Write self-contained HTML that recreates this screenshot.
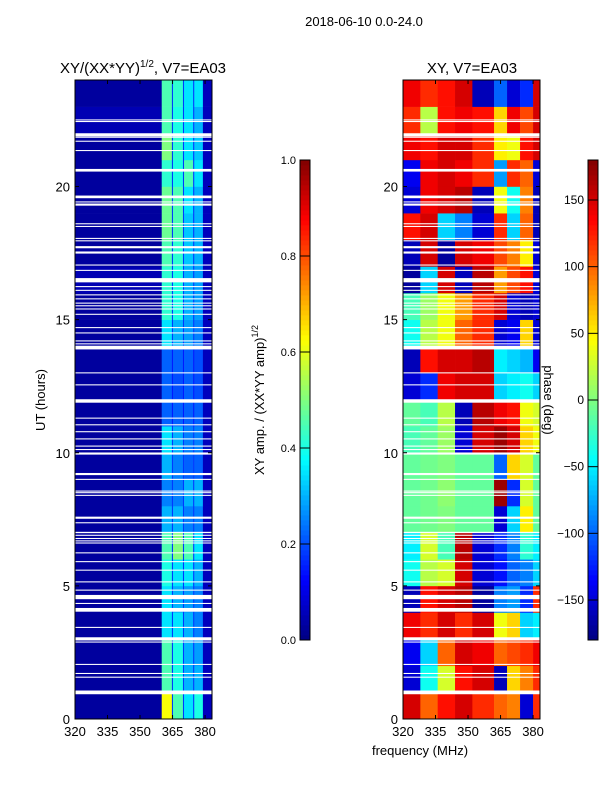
<!DOCTYPE html>
<html><head><meta charset="utf-8">
<style>
html,body{margin:0;padding:0;background:#fff;}
svg{display:block;font-family:"Liberation Sans","DejaVu Sans",sans-serif;}
</style></head>
<body>
<svg id="fig" width="600" height="800" viewBox="0 0 600 800">
<rect width="600" height="800" fill="#fff"/>
<text x="364" y="26" font-size="13" text-anchor="middle">2018-06-10 0.0-24.0</text>
<text x="143" y="73" font-size="15" text-anchor="middle">XY/(XX*YY)<tspan font-size="10" dy="-6">1/2</tspan><tspan dy="6">, V7=EA03</tspan></text>
<text x="472" y="73" font-size="15" text-anchor="middle">XY, V7=EA03</text>
<text transform="translate(45,400) rotate(-90)" font-size="13" text-anchor="middle">UT (hours)</text>
<text transform="translate(264,400) rotate(-90)" font-size="13" text-anchor="middle">XY amp. / (XX*YY amp)<tspan font-size="9" dy="-6">1/2</tspan></text>
<text transform="translate(544,400) rotate(90)" font-size="13" text-anchor="middle">phase (deg)</text>
<text x="420" y="755" font-size="13" text-anchor="middle">frequency (MHz)</text>
<g id="left"></g><g id="right"></g><g id="cb1"></g><g id="cb2"></g>
</svg>
<script>
// ---- data ----
const hours = [0,1,2,3,4,5,6,7,8,9,10,11,12,13,14,15,16,17,18,19,20,21,22,23];
const ampFreqEdges = [320,360,364.7,365.2,369.8,370.3,374.5,375,379,383.2];
const ampValues = [
 [0.03,0.62,0.18,0.45,0.18,0.35,0.18,0.40,0.06],
 [0.03,0.45,0.18,0.40,0.18,0.30,0.18,0.30,0.06],
 [0.03,0.45,0.18,0.40,0.18,0.30,0.18,0.28,0.06],
 [0.03,0.35,0.18,0.35,0.18,0.30,0.18,0.25,0.06],
 [0.03,0.35,0.18,0.30,0.18,0.28,0.18,0.25,0.06],
 [0.03,0.40,0.18,0.35,0.18,0.35,0.18,0.30,0.06],
 [0.03,0.45,0.18,0.50,0.18,0.45,0.18,0.35,0.06],
 [0.03,0.30,0.18,0.30,0.18,0.25,0.18,0.25,0.06],
 [0.03,0.25,0.18,0.25,0.18,0.30,0.18,0.30,0.06],
 [0.03,0.30,0.18,0.25,0.18,0.22,0.18,0.22,0.06],
 [0.03,0.35,0.18,0.30,0.18,0.25,0.18,0.25,0.06],
 [0.03,0.22,0.15,0.22,0.15,0.22,0.15,0.22,0.06],
 [0.03,0.22,0.15,0.20,0.15,0.22,0.15,0.20,0.06],
 [0.03,0.22,0.15,0.22,0.15,0.22,0.15,0.20,0.06],
 [0.03,0.35,0.18,0.30,0.18,0.28,0.18,0.25,0.06],
 [0.03,0.42,0.18,0.40,0.18,0.30,0.18,0.28,0.06],
 [0.05,0.42,0.18,0.40,0.18,0.30,0.18,0.28,0.06],
 [0.03,0.45,0.18,0.42,0.18,0.32,0.18,0.30,0.06],
 [0.03,0.48,0.18,0.45,0.18,0.32,0.18,0.30,0.06],
 [0.03,0.48,0.18,0.45,0.18,0.35,0.18,0.30,0.06],
 [0.03,0.42,0.18,0.40,0.18,0.45,0.18,0.35,0.06],
 [0.03,0.50,0.18,0.42,0.18,0.35,0.18,0.32,0.06],
 [0.05,0.45,0.18,0.40,0.18,0.35,0.18,0.30,0.06],
 [0.03,0.45,0.18,0.42,0.18,0.35,0.18,0.35,0.06]
];
const phaseFreqEdges = [320,328,336,344,352,362,368,374,380,383.2];
const phaseValues = [
 [150,100,130,150,120,100,90,-150,120],
 [-150,-40,30,130,150,-160,60,90,120],
 [-140,-60,100,150,140,100,110,120,140],
 [140,120,150,120,150,40,60,-60,-50],
 [-160,130,150,160,-170,-90,-80,-120,120],
 [-40,20,30,150,-150,-130,-100,-90,-60],
 [-50,30,-20,160,-150,-120,-90,-30,-50],
 [-10,-5,0,-10,-10,-150,-60,50,-10],
 [-10,-5,5,-10,-10,170,-120,30,-10],
 [-10,-5,0,-10,-10,-100,60,30,-10],
 [-20,-10,10,-150,150,170,150,60,40],
 [-10,-20,20,-160,160,140,130,40,30],
 [-150,-120,140,150,150,-60,-50,-40,-60],
 [-160,130,150,150,160,-50,-60,-70,-140],
 [-40,20,40,100,120,-150,-140,60,-150],
 [-20,10,40,80,120,150,-150,-160,-150],
 [-170,-60,150,-160,160,80,110,130,-150],
 [-160,150,-170,150,140,110,90,50,-150],
 [130,150,-60,-90,-150,120,-60,100,-160],
 [-150,140,150,160,-160,40,-40,90,-160],
 [-140,140,150,140,120,-80,120,100,-150],
 [140,130,150,150,120,50,40,130,150],
 [120,20,130,140,130,60,140,110,150],
 [140,120,130,150,-160,-100,-150,-120,150]
];
const gapStart = [0.93,1.55,1.69,2.03,2.87,2.95,3.42,4.03,4.32,4.5,4.82,5.13,5.57,5.89,6.22,6.59,6.67,6.76,6.88,6.98,7.35,7.52,8.38,8.48,8.54,8.98,9.16,9.93,10.1,10.23,10.5,10.77,11.03,11.28,11.88,12.53,12.98,13.88,14.07,14.18,14.48,14.68,15.18,15.38,15.5,15.6,15.76,15.91,16.08,16.22,16.4,16.83,17.03,17.48,17.68,17.94,18.03,18.48,18.58,19.28,19.4,19.56,20.56,21.33,21.68,21.83,21.88,22.42,22.48];
const gapEnd   = [1.07,1.59,1.73,2.07,2.91,3.07,3.46,4.17,4.36,4.66,4.86,5.17,5.61,5.93,6.26,6.63,6.71,6.8,6.92,7.03,7.39,7.6,8.42,8.52,8.58,9.02,9.24,10.01,10.14,10.27,10.54,10.81,11.07,11.32,12.01,12.57,13.02,14.02,14.11,14.22,14.52,14.72,15.22,15.42,15.54,15.64,15.8,15.95,16.12,16.26,16.56,16.87,17.07,17.56,17.76,17.98,18.07,18.52,18.62,19.36,19.44,19.66,20.66,21.37,21.72,21.87,22.0,22.46,22.52];
const yTicks = [0,5,10,15,20];
const xTicks = [320,335,350,365,380];
const ampTicks = [0.0,0.2,0.4,0.6,0.8,1.0];
const phaseTicks = [-150,-100,-50,0,50,100,150];

// ---- helpers ----
const NS = "http://www.w3.org/2000/svg";
function jet(v){
  v=Math.max(0,Math.min(1,v));
  const f=t=>Math.max(0,Math.min(1,1.5-Math.abs(4*v-t)));
  return `rgb(${Math.round(f(3)*255)},${Math.round(f(2)*255)},${Math.round(f(1)*255)})`;
}
function mk(parent,tag,attrs){const e=document.createElementNS(NS,tag);for(const k in attrs)e.setAttribute(k,attrs[k]);parent.appendChild(e);return e;}
const Y0=719, Y1=80;
const yScale = h => Y0 + (Y1-Y0)*h/24;

function panel(gid,x0,x1,fEdges,vals,norm,name){
  const g=document.getElementById(gid);
  const xs = f => x0 + (x1-x0)*(f-320)/(383.2-320);
  vals.forEach((row,i)=>{
    row.forEach((v,j)=>{
      const r=mk(g,'rect',{x:xs(fEdges[j]),y:yScale(hours[i]+1),width:xs(fEdges[j+1])-xs(fEdges[j])+0.3,height:yScale(hours[i])-yScale(hours[i]+1)+0.3,fill:jet(norm(v))});
      
      
    });
  });
  gapStart.forEach((s,k)=>{
    const r=mk(g,'rect',{x:x0,y:yScale(gapEnd[k]),width:x1-x0,height:yScale(s)-yScale(gapEnd[k]),fill:'#fff'});
    
    
  });
  const fr=mk(g,'rect',{x:x0,y:Y1,width:x1-x0,height:Y0-Y1,fill:'none',stroke:'#000','stroke-width':1});
  
  
  yTicks.forEach(t=>{
    const y=yScale(t);
    mk(g,'line',{x1:x0,x2:x0+4,y1:y,y2:y,stroke:'#000'});
    mk(g,'line',{x1:x1,x2:x1-4,y1:y,y2:y,stroke:'#000'});
    const tx=mk(g,'text',{x:x0-5,y:y+5,'font-size':13,'text-anchor':'end'});
    tx.textContent=t;
    
    
  });
  xTicks.forEach(t=>{
    const x=xs(t);
    mk(g,'line',{x1:x,x2:x,y1:Y0,y2:Y0-4,stroke:'#000'});
    mk(g,'line',{x1:x,x2:x,y1:Y1,y2:Y1+4,stroke:'#000'});
    const tx=mk(g,'text',{x:x,y:Y0+17,'font-size':13,'text-anchor':'middle'});
    tx.textContent=t;
    
    
  });
}
panel('left',75,212,ampFreqEdges,ampValues,v=>v,'amplitude');
panel('right',403,540,phaseFreqEdges,phaseValues,v=>(v+180)/360,'phase');

function colorbar(gid,x,ticks,lo,hi,fmt,name){
  const g=document.getElementById(gid);
  const top=160,bot=640,w=10,n=96;
  for(let i=0;i<n;i++){
    const r=mk(g,'rect',{x:x,y:bot-(i+1)*(bot-top)/n,width:w,height:(bot-top)/n+0.4,fill:jet((i+0.5)/n)});
    
    
  }
  const fr=mk(g,'rect',{x:x,y:top,width:w,height:bot-top,fill:'none',stroke:'#000'});
  
  
  ticks.forEach(t=>{
    const y=bot-(bot-top)*(t-lo)/(hi-lo);
    mk(g,'line',{x1:x,x2:x+w,y1:y,y2:y,stroke:'#000'});
    const tx=mk(g,'text',{x:x-4,y:y+4,'font-size':(name==='amp-colorbar'?11:12),'text-anchor':'end'});
    tx.textContent=fmt(t);
    
    
  });
}
colorbar('cb1',300,ampTicks,0,1,t=>t.toFixed(1),'amp-colorbar');
colorbar('cb2',588,phaseTicks,-180,180,t=>t<0?'\u2212'+(-t):String(t),'phase-colorbar');
</script>
</body></html>
